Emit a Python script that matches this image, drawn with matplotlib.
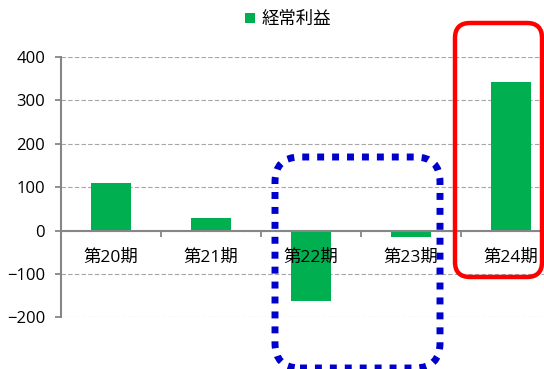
import matplotlib
matplotlib.use("Agg")
import matplotlib.pyplot as plt
from matplotlib.patches import FancyBboxPatch
from matplotlib.ticker import FixedLocator, MultipleLocator

# 経常利益 by fiscal period
periods = ["第20期", "第21期", "第22期", "第23期", "第24期"]
ordinary_profit = [109, 29, -163, -15, 342]
series_name = "経常利益"

FONTS = ["Open Sans", "Noto Sans CJK JP", "DejaVu Sans"]
plt.rcParams["font.family"] = FONTS

BAR_GREEN = "#00B050"
AXIS_GRAY = "#868686"
GRID_GRAY = "#A6A6A6"
TEXT = "#000000"

fig = plt.figure(figsize=(5.44, 3.69), dpi=100)
ax = fig.add_axes([61 / 544, 0.1401, 500 / 544, 0.7054])

x = list(range(len(periods)))
ax.bar(x, ordinary_profit, width=0.4, color=BAR_GREEN, label=series_name, zorder=3)

ax.set_xlim(-0.5, len(periods) - 0.5)
ax.set_ylim(-200, 400)
ax.yaxis.set_major_locator(MultipleLocator(100))

# dashed horizontal gridlines
ax.yaxis.grid(True, color=GRID_GRAY, linestyle=(0, (4, 2)), linewidth=0.8, zorder=1)
ax.set_axisbelow(True)

# spines: left axis plus a category axis running through zero
for side in ("top", "right"):
    ax.spines[side].set_visible(False)
ax.spines["bottom"].set_position(("data", 0))
ax.spines["bottom"].set_color(AXIS_GRAY)
ax.spines["bottom"].set_linewidth(1.5)
ax.spines["bottom"].set_zorder(4)
ax.spines["left"].set_color(AXIS_GRAY)
ax.spines["left"].set_linewidth(1.5)

ax.set_xticks(x)
ax.set_xticklabels(periods)
ax.xaxis.set_minor_locator(FixedLocator([i + 0.5 for i in x]))
ax.tick_params(axis="x", which="major", length=0, pad=14, labelsize=12.5,
               labelcolor=TEXT)
ax.tick_params(axis="x", which="minor", length=4, width=1.3, color=AXIS_GRAY,
               direction="out")
ax.tick_params(axis="y", length=4.5, width=1.3, color=AXIS_GRAY, pad=7,
               labelsize=12, labelcolor=TEXT)
# category labels sit on top of the bars
ax.xaxis.set_zorder(5)

leg = ax.legend(loc="center", bbox_to_anchor=(288 / 544, 1 - 20 / 369),
                bbox_transform=fig.transFigure, frameon=False, fontsize=12.5,
                handlelength=0.55, handleheight=0.55, handletextpad=0.4,
                borderpad=0, borderaxespad=0)
for t in leg.get_texts():
    t.set_color(TEXT)

# highlight frames (coordinates in inches from the lower-left corner)
red_frame = FancyBboxPatch((4.55, 0.92), 0.87, 2.54,
                           boxstyle="round,pad=0,rounding_size=0.15",
                           transform=fig.dpi_scale_trans, fill=False,
                           edgecolor="#FF0000", linewidth=3.2, zorder=10)
blue_frame = FancyBboxPatch((2.75, 0.01), 1.65, 2.11,
                            boxstyle="round,pad=0,rounding_size=0.25",
                            transform=fig.dpi_scale_trans, fill=False,
                            edgecolor="#0000CC", linewidth=5,
                            linestyle=(0, (1, 1.15)), zorder=10)
blue_frame.set_capstyle("butt")
fig.patches.extend([red_frame, blue_frame])

fig.savefig("out.png", dpi=100)
